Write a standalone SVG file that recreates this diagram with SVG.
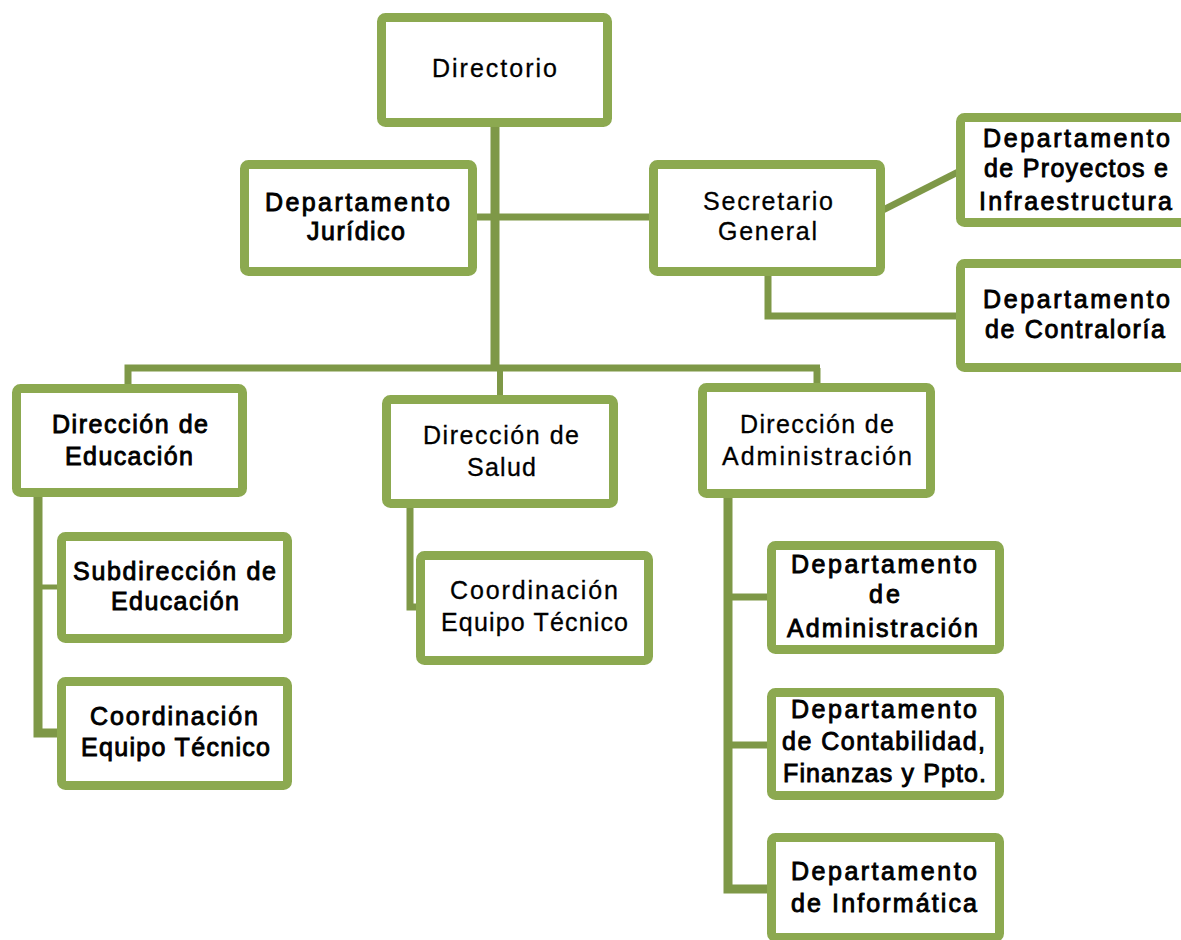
<svg xmlns="http://www.w3.org/2000/svg" width="1181" height="940" viewBox="0 0 1181 940">
<style>
.box{fill:#ffffff;stroke:#8CA950;stroke-width:9}
.ln{fill:none;stroke:#7E9847;stroke-width:8;stroke-linecap:butt;stroke-linejoin:miter}
.t{font-family:"Liberation Sans",Arial,sans-serif;font-size:25px;fill:#000;text-anchor:start;stroke:#000;stroke-width:0.3}
.b{stroke-width:0.9}
</style>
<rect x="0" y="0" width="1181" height="940" fill="#ffffff"/>
<g id="connectors">
<line class="ln" x1="495" y1="125" x2="495" y2="371" style="stroke-width:9"/>
<line class="ln" x1="475" y1="217" x2="651" y2="217" style="stroke-width:7"/>
<polyline class="ln" points="128,386 128,368 820,368" style="stroke-width:7"/>
<line class="ln" x1="817" y1="368" x2="817" y2="385" style="stroke-width:7"/>
<line class="ln" x1="500" y1="370" x2="500" y2="397" style="stroke-width:6"/>
<polyline class="ln" points="38,495 38,733 59,733" style="stroke-width:9"/>
<line class="ln" x1="38" y1="587" x2="59" y2="587" style="stroke-width:5"/>
<polyline class="ln" points="410,506 410,607 418,607" style="stroke-width:7"/>
<polyline class="ln" points="728,496 728,889 769,889" style="stroke-width:9"/>
<line class="ln" x1="728" y1="597" x2="769" y2="597" style="stroke-width:7"/>
<line class="ln" x1="728" y1="745" x2="769" y2="745" style="stroke-width:7"/>
<polyline class="ln" points="768,274 768,316 958,316" style="stroke-width:7"/>
<line class="ln" x1="883" y1="210" x2="958" y2="172" style="stroke-width:7"/>
</g>
<g id="directorio">
<rect class="box" x="381.5" y="17.5" width="226" height="105" rx="4"/>
<text class="t" x="432" y="77" textLength="125" lengthAdjust="spacing">Directorio</text>
</g>
<g id="juridico">
<rect class="box" x="244.5" y="164.5" width="228" height="107" rx="4"/>
<text class="t b" x="265" y="211" textLength="185" lengthAdjust="spacing">Departamento</text>
<text class="t b" x="307" y="240" textLength="98" lengthAdjust="spacing">Jurídico</text>
</g>
<g id="secretario">
<rect class="box" x="653.5" y="164.5" width="227" height="107" rx="4"/>
<text class="t" x="703" y="210" textLength="130" lengthAdjust="spacing">Secretario</text>
<text class="t" x="718" y="240" textLength="99" lengthAdjust="spacing">General</text>
</g>
<g id="proyectos">
<rect class="box" x="960.5" y="117.5" width="240" height="105" rx="4"/>
<text class="t b" x="983" y="147" textLength="187" lengthAdjust="spacing">Departamento</text>
<text class="t b" x="984" y="177" textLength="184" lengthAdjust="spacing">de Proyectos e</text>
<text class="t b" x="979" y="210" textLength="193" lengthAdjust="spacing">Infraestructura</text>
</g>
<g id="contraloria">
<rect class="box" x="960.5" y="263.5" width="240" height="104" rx="4"/>
<text class="t b" x="983" y="308" textLength="187" lengthAdjust="spacing">Departamento</text>
<text class="t b" x="985" y="338" textLength="180" lengthAdjust="spacing">de Contraloría</text>
</g>
<g id="dir-educacion">
<rect class="box" x="16.5" y="388.5" width="226" height="104" rx="4"/>
<text class="t b" x="52" y="433" textLength="156" lengthAdjust="spacing">Dirección de</text>
<text class="t b" x="65" y="465" textLength="128" lengthAdjust="spacing">Educación</text>
</g>
<g id="subdireccion">
<rect class="box" x="61.5" y="536.5" width="226" height="102" rx="4"/>
<text class="t b" x="73" y="580" textLength="203" lengthAdjust="spacing">Subdirección de</text>
<text class="t b" x="111" y="610" textLength="128" lengthAdjust="spacing">Educación</text>
</g>
<g id="coord-educacion">
<rect class="box" x="61.5" y="681.5" width="226" height="104" rx="4"/>
<text class="t b" x="90" y="725" textLength="168" lengthAdjust="spacing">Coordinación</text>
<text class="t b" x="81" y="756" textLength="189" lengthAdjust="spacing">Equipo Técnico</text>
</g>
<g id="dir-salud">
<rect class="box" x="386.5" y="399.5" width="227" height="104" rx="4"/>
<text class="t" x="423" y="444" textLength="156" lengthAdjust="spacing">Dirección de</text>
<text class="t" x="467" y="476" textLength="69" lengthAdjust="spacing">Salud</text>
</g>
<g id="coord-salud">
<rect class="box" x="420.5" y="555.5" width="228" height="105" rx="4"/>
<text class="t" x="450" y="599" textLength="168" lengthAdjust="spacing">Coordinación</text>
<text class="t" x="441" y="631" textLength="187" lengthAdjust="spacing">Equipo Técnico</text>
</g>
<g id="dir-administracion">
<rect class="box" x="702.5" y="387.5" width="228" height="106" rx="4"/>
<text class="t" x="740" y="433" textLength="154" lengthAdjust="spacing">Dirección de</text>
<text class="t" x="722" y="465" textLength="190" lengthAdjust="spacing">Administración</text>
</g>
<g id="dep-administracion">
<rect class="box" x="771.5" y="545.5" width="228" height="104" rx="4"/>
<text class="t b" x="791" y="573" textLength="186" lengthAdjust="spacing">Departamento</text>
<text class="t b" x="869" y="603" textLength="31" lengthAdjust="spacing">de</text>
<text class="t b" x="787" y="637" textLength="191" lengthAdjust="spacing">Administración</text>
</g>
<g id="dep-contabilidad">
<rect class="box" x="771.5" y="692.5" width="228" height="103" rx="4"/>
<text class="t b" x="791" y="718" textLength="186" lengthAdjust="spacing">Departamento</text>
<text class="t b" x="782" y="750" textLength="203" lengthAdjust="spacing">de Contabilidad,</text>
<text class="t b" x="783" y="782" textLength="203" lengthAdjust="spacing">Finanzas y Ppto.</text>
</g>
<g id="dep-informatica">
<rect class="box" x="771.5" y="837.5" width="228" height="100" rx="4"/>
<text class="t b" x="791" y="880" textLength="186" lengthAdjust="spacing">Departamento</text>
<text class="t b" x="791" y="912" textLength="186" lengthAdjust="spacing">de Informática</text>
</g>
</svg>
